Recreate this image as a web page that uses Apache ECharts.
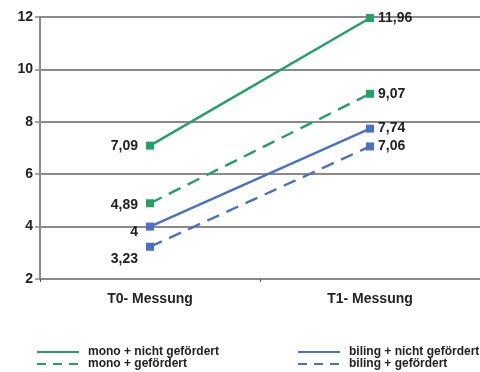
<!DOCTYPE html>
<html><head><meta charset="utf-8">
<script src="https://cdn.jsdelivr.net/npm/echarts@6/dist/echarts.min.js"></script>
<style>html,body{margin:0;padding:0;background:#fff}#c{width:480px;height:372px}</style>
</head><body><div id="c"></div>
<script>
const categories = ['T0- Messung', 'T1- Messung'];
const monoNicht = [7.09, 11.96];
const monoGef = [4.89, 9.07];
const bilingNicht = [4, 7.74];
const bilingGef = [3.23, 7.06];
const labelsMonoNicht = ['7,09', '11,96'];
const labelsMonoGef = ['4,89', '9,07'];
const labelsBilingNicht = ['4', '7,74'];
const labelsBilingGef = ['3,23', '7,06'];
const names = ['mono + nicht gefördert', 'mono + gefördert', 'biling + nicht gefördert', 'biling + gefördert'];

const green = '#23a065', blue = '#4a72c4';
const font = 'Liberation Sans, Arial, sans-serif';

function mk(name, vals, labels, color, dashed, offsets) {
  return {
    name: name, type: 'line', data: vals.map((v, i) => ({
      value: v,
      label: {
        show: true, formatter: labels[i],
        position: i === 0 ? 'left' : 'right',
        distance: i === 0 ? 8 : 4,
        offset: i === 0 ? offsets : [0, 0]
      }
    })),
    symbol: 'rect', symbolSize: 8,
    lineStyle: { color: color, width: 2.4, type: dashed ? [13, 8] : 'solid' },
    itemStyle: { color: color },
    label: { color: '#222', fontWeight: 'bold', fontSize: 14, fontFamily: font },
    emphasis: { disabled: true }, animation: false
  };
}

function lg(name, left, top, dashed) {
  const o = { data: [name], orient: 'horizontal', left: left, top: top, itemWidth: 42, itemHeight: 10, itemGap: 3, padding: 0,
    itemStyle: { opacity: 0 }, textStyle: { color: '#222', fontWeight: 'bold', fontSize: 12, fontFamily: font, padding: [0, 0, 0, 4] } };
  if (dashed) o.lineStyle = { type: [9, 7] };
  return o;
}

const chart = echarts.init(document.getElementById('c'));
chart.setOption({
  animation: false,
  grid: { left: 40, right: -3, top: 17, bottom: 93 },
  xAxis: {
    type: 'category', data: categories, boundaryGap: true,
    axisLine: { lineStyle: { color: '#8a8a8a', width: 2 } },
    axisTick: { show: true, inside: false, length: 3, lineStyle: { color: '#555' } },
    axisLabel: { color: '#222', fontWeight: 'bold', fontSize: 14, fontFamily: font, margin: 13 }
  },
  yAxis: {
    type: 'value', min: 2, max: 12, interval: 2,
    axisLine: { show: true, lineStyle: { color: '#8a8a8a', width: 2 } },
    axisTick: { show: true, length: 5, lineStyle: { color: '#8a8a8a', width: 1.5 } },
    splitLine: { lineStyle: { color: '#8a8a8a', width: 1.8 } },
    axisLabel: { color: '#222', fontWeight: 'bold', fontSize: 14, fontFamily: font, margin: 7 }
  },
  legend: [
    lg(names[0], 36, 346, false), lg(names[1], 36, 358, true),
    lg(names[2], 297, 346, false), lg(names[3], 297, 358, true)
  ],
  series: [
    mk(names[0], monoNicht, labelsMonoNicht, green, false, [0, 0]),
    mk(names[1], monoGef, labelsMonoGef, green, true, [0, 2]),
    mk(names[2], bilingNicht, labelsBilingNicht, blue, false, [0, 6]),
    mk(names[3], bilingGef, labelsBilingGef, blue, true, [0, 12])
  ]
});
</script></body></html>
